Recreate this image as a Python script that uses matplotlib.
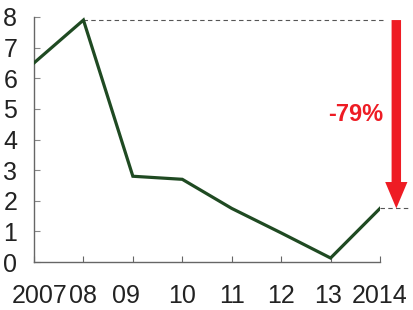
import matplotlib
matplotlib.use("Agg")
import matplotlib.pyplot as plt
from matplotlib.transforms import ScaledTranslation

years = ["2007", "08", "09", "10", "11", "12", "13", "2014"]
values = [6.5, 7.9, 2.8, 2.7, 1.75, 0.95, 0.13, 1.75]
yticks = [0, 1, 2, 3, 4, 5, 6, 7, 8]
change_label = "-79%"

plt.rcParams['font.family'] = ['Liberation Sans', 'DejaVu Sans']

fig = plt.figure(figsize=(4.14, 3.10), dpi=100)
ax = fig.add_axes([34/414, 48/310, 346/414, 245/310])
x = list(range(len(years)))
ax.plot(x, values, color='#1f4a22', lw=2.3, solid_joinstyle='miter', zorder=3)

ax.set_xlim(0, len(years) - 1)
ax.set_ylim(0, 8)
for s in ['top', 'right']:
    ax.spines[s].set_visible(False)
for s in ['left', 'bottom']:
    ax.spines[s].set_color('#666666')
    ax.spines[s].set_linewidth(1.0)

ax.set_xticks(x)
ax.set_xticklabels(years)
ax.set_yticks(yticks)
ax.set_yticklabels([str(v) for v in yticks])
ax.tick_params(axis='x', direction='in', length=4, width=0.8, color='#666666',
               labelsize=18, pad=16, labelcolor='#222222')
ax.tick_params(axis='y', direction='in', length=4, width=0.8, color='#888888',
               labelsize=18, pad=12, labelcolor='#222222')

# nudge labels like the reference
shifts = {0: 6, 2: -7, 6: -3}
for i, lab in enumerate(ax.get_xticklabels()):
    if i in shifts:
        lab.set_transform(lab.get_transform() +
                          ScaledTranslation(shifts[i] / 100, 0, fig.dpi_scale_trans))

# dashed reference lines
peak = max(values)
last = values[-1]
ax.plot([1, 7.12], [peak, peak], ls=(0, (4, 3)), color='#555555', lw=0.8, clip_on=False)
ax.plot([7, 7.6], [last, last], ls=(0, (4, 3)), color='#555555', lw=0.8, clip_on=False)

# arrow
ax.annotate('', xy=(7.33, last), xytext=(7.33, peak),
            arrowprops=dict(arrowstyle='simple,head_length=1.9,head_width=1.6,tail_width=0.68',
                            color='#ee1c24', lw=0, shrinkA=0, shrinkB=0),
            annotation_clip=False)
ax.text(6.51, 4.82, change_label, color='#ee1c24', fontsize=17, fontweight='bold',
        ha='center', va='center')

fig.savefig('out.png', dpi=100)
